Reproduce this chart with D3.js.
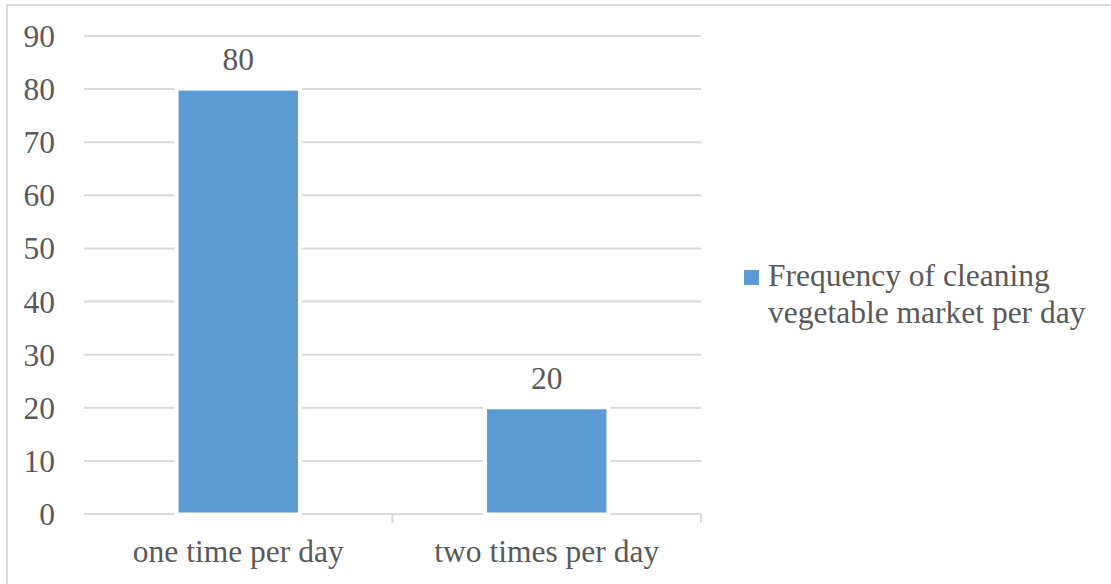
<!DOCTYPE html>
<html>
<head>
<meta charset="utf-8">
<script src="https://cdn.jsdelivr.net/npm/d3@7"></script>
<style>
  html, body { margin: 0; padding: 0; background: #fff; }
  svg { display: block; }
  text { font-family: "Liberation Serif", "Times New Roman", serif; fill: #595959; }
</style>
</head>
<body>
<svg id="chart" width="1111" height="584"></svg>
<script>
const categories = ["one time per day", "two times per day"];
const values = [80, 20];
const seriesName = ["Frequency of cleaning", "vegetable market per day"];
const yTicks = [0, 10, 20, 30, 40, 50, 60, 70, 80, 90];

const W = 1111, H = 584;
const FS = 31.5;
const gridColor = "#d9d9d9";
const barColor = "#5b9bd5";

const svg = d3.select("#chart");

// chart area frame
svg.append("rect")
  .attr("x", 7).attr("y", 5)
  .attr("width", W + 20).attr("height", H + 20)
  .attr("fill", "none").attr("stroke", gridColor).attr("stroke-width", 2);

const plot = { left: 84, right: 701, top: 36, bottom: 514 };

const x = d3.scaleBand().domain(categories)
  .range([plot.left, plot.right]).paddingInner(0).paddingOuter(0);
const y = d3.scaleLinear().domain([0, 90]).range([plot.bottom, plot.top]);

// horizontal gridlines
svg.append("g").selectAll("line").data(yTicks).join("line")
  .attr("x1", plot.left).attr("x2", plot.right)
  .attr("y1", d => y(d)).attr("y2", d => y(d))
  .attr("stroke", gridColor).attr("stroke-width", 2);

// category tick marks below the baseline
const tickXs = categories.slice(1).map(c => x(c)).concat([plot.right]);
svg.append("g").selectAll("line").data(tickXs).join("line")
  .attr("x1", d => d).attr("x2", d => d)
  .attr("y1", plot.bottom).attr("y2", plot.bottom + 9)
  .attr("stroke", gridColor).attr("stroke-width", 2);

// y tick labels
svg.append("g").selectAll("text").data(yTicks).join("text")
  .attr("x", 55).attr("y", d => y(d) + 11)
  .attr("text-anchor", "end")
  .attr("font-size", FS)
  .text(d => d);

// bars: white outline first, then the fill slightly inset
const barW = x.bandwidth() * 0.387;
const barX = i => x(categories[i]) + x.bandwidth() / 2 - barW / 2;
const bars = svg.append("g");
bars.selectAll("rect.outline").data(values).join("rect")
  .attr("class", "outline")
  .attr("x", (d, i) => barX(i) - 4)
  .attr("y", d => y(d) - 2)
  .attr("width", barW + 8)
  .attr("height", d => y(0) - y(d) + 4)
  .attr("fill", "#fff");
bars.selectAll("rect.fill").data(values).join("rect")
  .attr("class", "fill")
  .attr("x", (d, i) => barX(i))
  .attr("y", d => y(d) + 1.5)
  .attr("width", barW)
  .attr("height", d => y(0) - y(d) - 3)
  .attr("fill", barColor);

// value labels
svg.append("g").selectAll("text").data(values).join("text")
  .attr("x", (d, i) => x(categories[i]) + x.bandwidth() / 2)
  .attr("y", d => y(d) - 19)
  .attr("text-anchor", "middle")
  .attr("font-size", FS)
  .attr("fill", "#404040")
  .text(d => d);

// category labels
svg.append("g").selectAll("text").data(categories).join("text")
  .attr("x", d => x(d) + x.bandwidth() / 2)
  .attr("y", 562)
  .attr("text-anchor", "middle")
  .attr("font-size", FS)
  .text(d => d);

// legend
const legend = svg.append("g");
legend.append("rect")
  .attr("x", 744).attr("y", 270).attr("width", 15).attr("height", 15)
  .attr("fill", barColor);
legend.append("text")
  .attr("x", 768).attr("y", 286)
  .attr("font-size", FS)
  .selectAll("tspan").data(seriesName).join("tspan")
  .attr("x", 768).attr("dy", (d, i) => i === 0 ? 0 : 37)
  .text(d => d);
</script>
</body>
</html>
